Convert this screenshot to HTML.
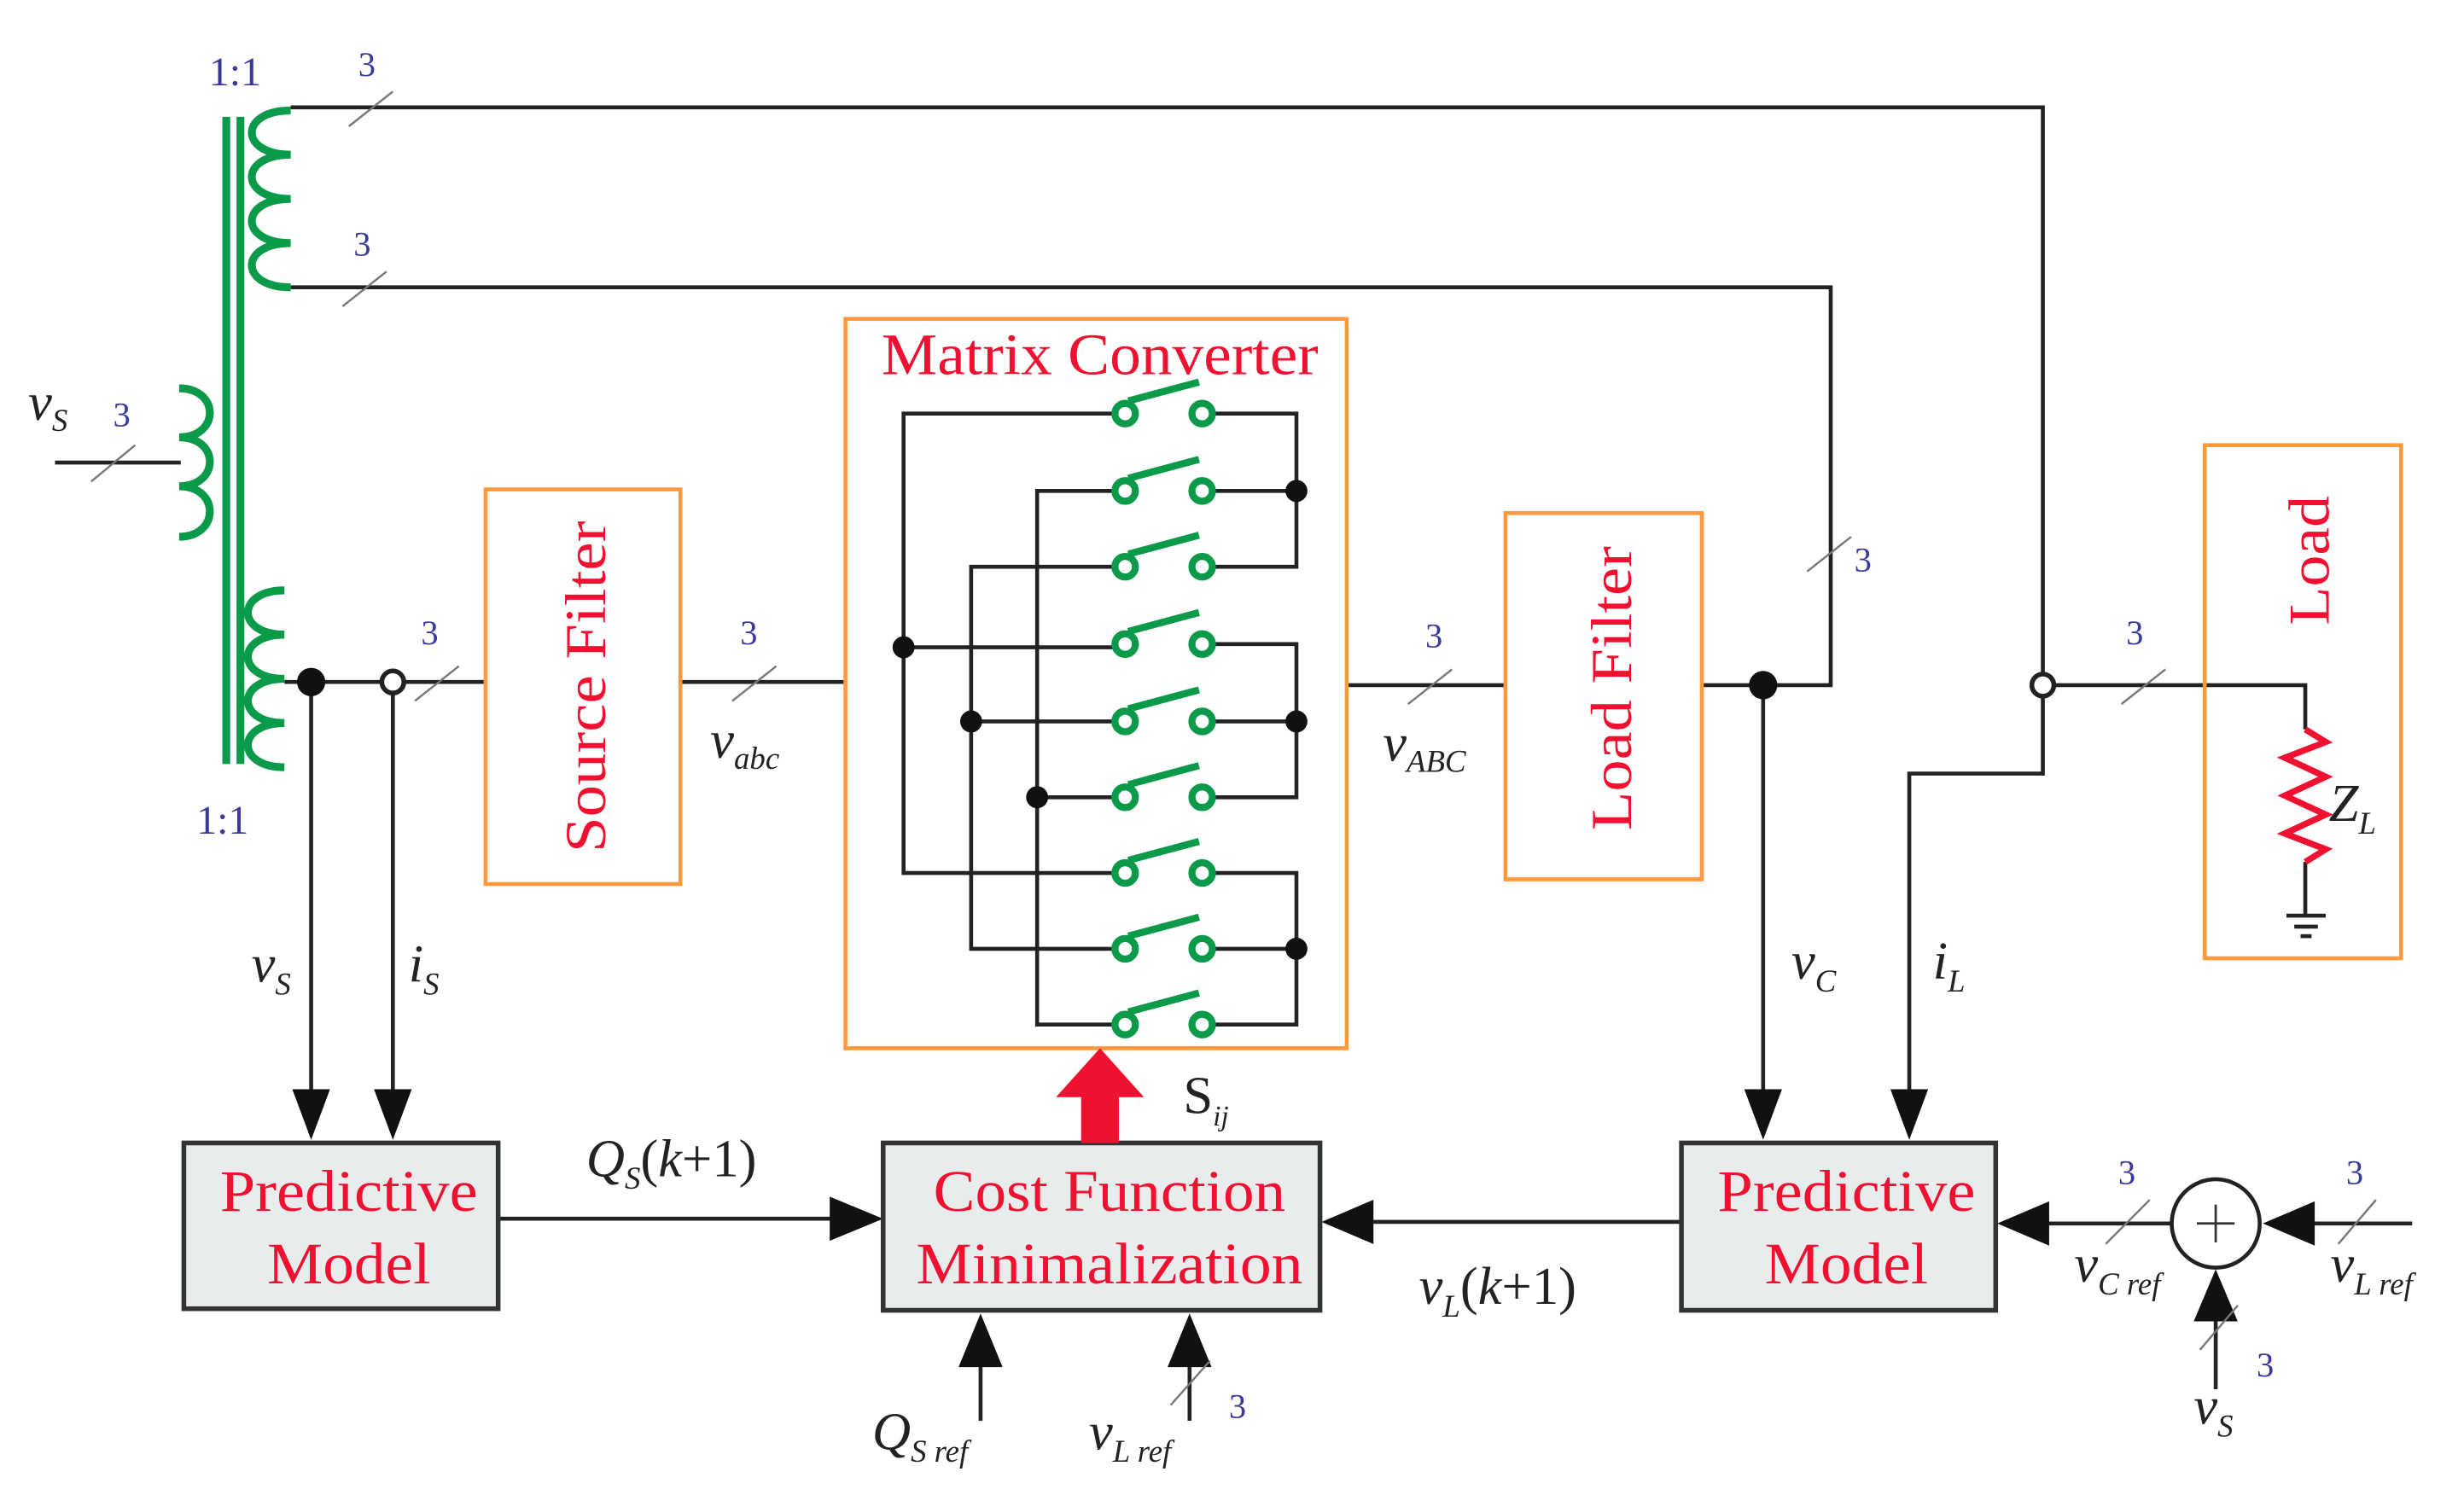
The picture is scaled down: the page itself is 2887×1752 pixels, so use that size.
<!DOCTYPE html>
<html><head><meta charset="utf-8"><style>
html,body{margin:0;padding:0;background:#fff;}
svg{display:block;}
text{font-family:"Liberation Serif",serif;}
.r{fill:#f01030;}
.b{fill:#3a3a9a;font-size:22px;}
.i{font-style:italic;fill:#222;}
</style></head><body>
<svg width="2887" height="1752" viewBox="0 0 1568 947" preserveAspectRatio="none" xmlns="http://www.w3.org/2000/svg">
<g stroke="#222" stroke-width="2.5" fill="none">
<polyline points="185,68 1300,68 1300,490 1215,490 1215,700"/>
<polyline points="185,182 1165,182 1165,434 1083,434"/>
<line x1="35" y1="293" x2="115" y2="293"/>
<line x1="181" y1="432" x2="310" y2="432"/>
<line x1="433" y1="432" x2="538" y2="432"/>
<line x1="857" y1="434" x2="958" y2="434"/>
<polyline points="1300,434 1467,434 1467,462"/>
<line x1="1467" y1="546" x2="1467" y2="580"/>
<line x1="1455" y1="580" x2="1480" y2="580"/>
<line x1="1460" y1="587" x2="1475" y2="587"/>
<line x1="1464" y1="593" x2="1471" y2="593"/>
<line x1="198" y1="432" x2="198" y2="700"/>
<line x1="250" y1="432" x2="250" y2="700"/>
<line x1="1122" y1="434" x2="1122" y2="700"/>
<polyline points="716,262 575,262 575,553 716,553"/>
<line x1="575" y1="410" x2="716" y2="410"/>
<polyline points="716,359 618,359 618,601 716,601"/>
<line x1="618" y1="457" x2="716" y2="457"/>
<polyline points="716,311 660,311 660,649 716,649"/>
<line x1="660" y1="505" x2="716" y2="505"/>
<polyline points="765,262 825,262 825,359 765,359"/><line x1="765" y1="311" x2="825" y2="311"/>
<polyline points="765,408 825,408 825,505 765,505"/><line x1="765" y1="457" x2="825" y2="457"/>
<polyline points="765,553 825,553 825,649 765,649"/><line x1="765" y1="601" x2="825" y2="601"/>
<line x1="317" y1="772" x2="540" y2="772"/>
<line x1="1070" y1="774" x2="865" y2="774"/>
<line x1="1382" y1="775" x2="1295" y2="775"/>
<line x1="1535" y1="775" x2="1462" y2="775"/>
<line x1="1410" y1="880" x2="1410" y2="828"/>
<line x1="624" y1="900" x2="624" y2="855"/>
<line x1="757" y1="900" x2="757" y2="855"/>
</g>
<g fill="#111">
<polygon points="186,690 210,690 198,722"/>
<polygon points="238,690 262,690 250,722"/>
<polygon points="1110,690 1134,690 1122,722"/>
<polygon points="1203,690 1227,690 1215,722"/>
<polygon points="528,758 528,786 562,772"/>
<polygon points="874,760 874,788 841,774"/>
<polygon points="1304,761 1304,789 1271,775"/>
<polygon points="1473,761 1473,789 1440,775"/>
<polygon points="1396,837 1424,837 1410,804"/>
<polygon points="610,866 638,866 624,832"/>
<polygon points="743,866 771,866 757,832"/>
<circle cx="198" cy="432" r="9"/>
<circle cx="1122" cy="434" r="9"/>
<circle cx="575" cy="410" r="7"/><circle cx="618" cy="457" r="7"/><circle cx="660" cy="505" r="7"/>
<circle cx="825" cy="311" r="7"/><circle cx="825" cy="457" r="7"/><circle cx="825" cy="601" r="7"/>
</g>
<circle cx="250" cy="432" r="7" fill="#fff" stroke="#222" stroke-width="3"/>
<circle cx="1300" cy="434" r="7" fill="#fff" stroke="#222" stroke-width="3"/>
<circle cx="1410" cy="775" r="28" fill="#fff" stroke="#222" stroke-width="2.5"/>
<path d="M1398,775 H1422 M1410,763 V787" stroke="#333" stroke-width="1.5"/>
<g stroke="#777" stroke-width="1.3">
<line x1="222" y1="80" x2="250" y2="58"/>
<line x1="218" y1="194" x2="246" y2="172"/>
<line x1="58" y1="305" x2="86" y2="282"/>
<line x1="264" y1="444" x2="292" y2="422"/>
<line x1="466" y1="444" x2="494" y2="422"/>
<line x1="896" y1="446" x2="924" y2="424"/>
<line x1="1150" y1="362" x2="1178" y2="340"/>
<line x1="1350" y1="446" x2="1378" y2="424"/>
<line x1="1340" y1="788" x2="1368" y2="760"/>
<line x1="1488" y1="788" x2="1512" y2="760"/>
<line x1="1400" y1="855" x2="1424" y2="827"/>
<line x1="745" y1="890" x2="770" y2="862"/>
</g>
<g stroke="#0a9a4a" stroke-width="5" fill="none">
<line x1="144" y1="74" x2="144" y2="484"/>
<line x1="153" y1="74" x2="153" y2="484"/>
<path d="M185,70 C152,70 152,98 185,98 C152,98 152,126 185,126 C152,126 152,154 185,154 C152,154 152,182 185,182"/>
<path d="M114,246 C140,246 140,277 114,277 C140,277 140,308 114,308 C140,308 140,340 114,340"/>
<path d="M181,374 C150,374 150,402 181,402 C150,402 150,430 181,430 C150,430 150,458 181,458 C150,458 150,486 181,486"/>
</g>
<g stroke="#0a9a4a" stroke-width="4.5" fill="#fff">
<g id="sw"><circle cx="716" cy="262" r="6.5"/><circle cx="765" cy="262" r="6.5"/><line x1="718" y1="254" x2="763" y2="242"/></g>
<use href="#sw" y="49"/><use href="#sw" y="97"/><use href="#sw" y="146"/><use href="#sw" y="195"/><use href="#sw" y="243"/><use href="#sw" y="291"/><use href="#sw" y="339"/><use href="#sw" y="387"/>
</g>
<polyline points="1467,462 1480,470 1454,480 1480,492 1454,504 1480,516 1454,528 1480,538 1467,546" stroke="#f01030" stroke-width="4" fill="none"/>
<g stroke="#ff9a3c" stroke-width="2.5" fill="none">
<rect x="309" y="310" width="124" height="250"/>
<rect x="538" y="202" width="319" height="462"/>
<rect x="958" y="325" width="125" height="232"/>
<rect x="1403" y="282" width="125" height="325"/>
</g>
<g stroke="#333" stroke-width="3" fill="#e8ecec">
<rect x="117" y="724" width="200" height="105"/>
<rect x="562" y="724" width="278" height="106"/>
<rect x="1070" y="724" width="200" height="106"/>
</g>
<polygon points="688,724 712,724 712,695 728,695 700,664 672,695 688,695" fill="#f01030"/>
<g class="r" font-size="37">
<text x="700" y="237" text-anchor="middle" textLength="278" lengthAdjust="spacingAndGlyphs">Matrix Converter</text>
<text transform="translate(385,435) rotate(-90)" text-anchor="middle" textLength="210" lengthAdjust="spacingAndGlyphs">Source Filter</text>
<text transform="translate(1038,436) rotate(-90)" text-anchor="middle" textLength="180" lengthAdjust="spacingAndGlyphs">Load Filter</text>
<text transform="translate(1482,355) rotate(-90)" text-anchor="middle" textLength="82" lengthAdjust="spacingAndGlyphs">Load</text>
<text x="222" y="767" text-anchor="middle" textLength="164" lengthAdjust="spacingAndGlyphs">Predictive</text>
<text x="222" y="813" text-anchor="middle" textLength="104" lengthAdjust="spacingAndGlyphs">Model</text>
<text x="706" y="767" text-anchor="middle" textLength="224" lengthAdjust="spacingAndGlyphs">Cost Function</text>
<text x="706" y="813" text-anchor="middle" textLength="246" lengthAdjust="spacingAndGlyphs">Minimalization</text>
<text x="1175" y="767" text-anchor="middle" textLength="164" lengthAdjust="spacingAndGlyphs">Predictive</text>
<text x="1175" y="813" text-anchor="middle" textLength="104" lengthAdjust="spacingAndGlyphs">Model</text>
</g>
<g class="b">
<text x="133" y="54" font-size="26">1:1</text>
<text x="125" y="528" font-size="26">1:1</text>
<text x="228" y="48">3</text><text x="225" y="162">3</text><text x="72" y="270">3</text>
<text x="268" y="408">3</text><text x="471" y="408">3</text><text x="907" y="410">3</text>
<text x="1180" y="362">3</text><text x="1353" y="408">3</text><text x="1348" y="750">3</text>
<text x="1493" y="750">3</text><text x="1436" y="872">3</text><text x="782" y="898">3</text>
</g>
<g class="i" font-size="34">
<text x="18" y="266">v<tspan font-size="20" dy="7">S</tspan></text>
<text x="452" y="480">v<tspan font-size="20" dy="7">abc</tspan></text>
<text x="880" y="482">v<tspan font-size="20" dy="7">ABC</tspan></text>
<text x="160" y="622">v<tspan font-size="20" dy="8">S</tspan></text>
<text x="260" y="622">i<tspan font-size="20" dy="8">S</tspan></text>
<text x="1140" y="620">v<tspan font-size="20" dy="8">C</tspan></text>
<text x="1230" y="620">i<tspan font-size="20" dy="8">L</tspan></text>
<text x="1482" y="520">Z<tspan font-size="20" dy="8">L</tspan></text>
<text x="373" y="745">Q<tspan font-size="20" dy="8">S</tspan><tspan dy="-8" font-style="normal">(</tspan>k<tspan font-style="normal">+1)</tspan></text>
<text x="903" y="826">v<tspan font-size="20" dy="8">L</tspan><tspan dy="-8" font-style="normal">(</tspan>k<tspan font-style="normal">+1)</tspan></text>
<text x="753" y="705" font-style="normal">S<tspan font-size="18" dy="8" font-style="italic">ij</tspan></text>
<text x="555" y="918">Q<tspan font-size="20" dy="8">S ref</tspan></text>
<text x="693" y="918">v<tspan font-size="20" dy="8">L ref</tspan></text>
<text x="1320" y="812">v<tspan font-size="20" dy="8">C ref</tspan></text>
<text x="1483" y="812">v<tspan font-size="20" dy="8">L ref</tspan></text>
<text x="1396" y="902">v<tspan font-size="20" dy="8">S</tspan></text>
</g>
</svg>
</body></html>
